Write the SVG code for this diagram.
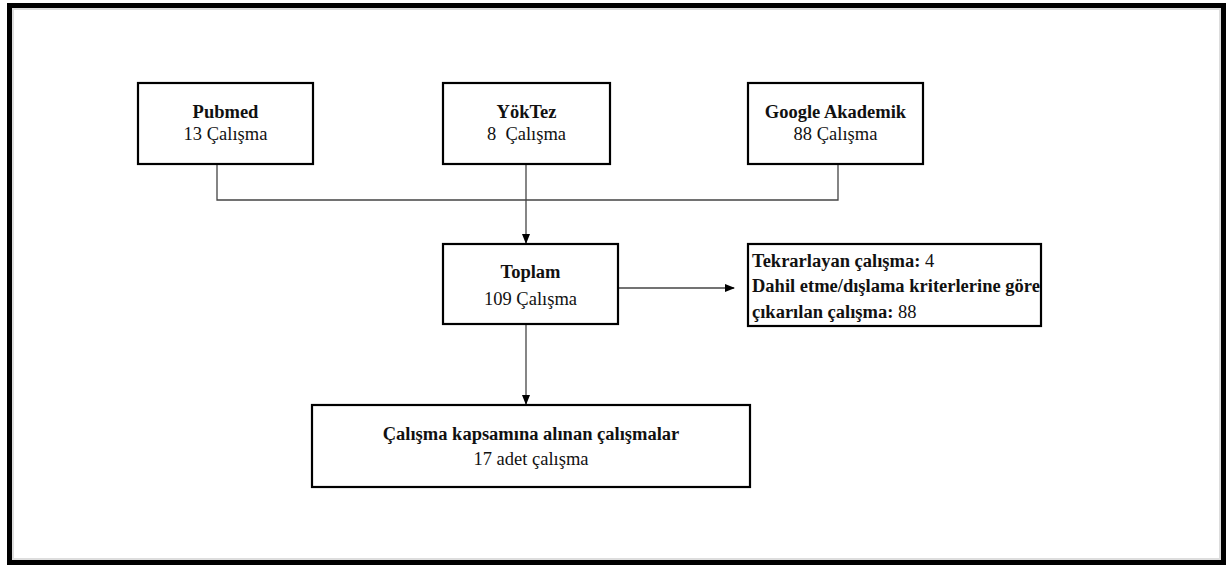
<svg xmlns="http://www.w3.org/2000/svg" width="1228" height="567" viewBox="0 0 1228 567">
<defs>
<marker id="arr" markerWidth="10" markerHeight="10" refX="9" refY="5" orient="auto" markerUnits="userSpaceOnUse">
<path d="M0,1 L10,5 L0,9 Z" fill="#000"/>
</marker>
<style>
.box{fill:#fff;stroke:#000;stroke-width:2.2}
.t{font-family:"Liberation Serif","Times New Roman",serif;font-size:18.5px;fill:#111}
.b{font-weight:bold}
.c{text-anchor:middle}
.ln{fill:none;stroke:#444;stroke-width:1.3}
</style>
</defs>
<rect x="0" y="0" width="1228" height="567" fill="#fff"/>
<rect x="9.5" y="5.5" width="1214" height="557" fill="#fff" stroke="#000" stroke-width="5"/>
<rect x="13" y="9" width="1207" height="550" fill="none" stroke="#ddd" stroke-width="2"/>

<g id="connectors">
<polyline class="ln" points="217,164 217,200 838,200 838,164"/>
<line class="ln" x1="526" y1="164" x2="526" y2="243" marker-end="url(#arr)"/>
<line class="ln" x1="618" y1="288" x2="734" y2="288" marker-end="url(#arr)"/>
<line class="ln" x1="526" y1="324" x2="526" y2="404" marker-end="url(#arr)"/>
</g>

<g id="pubmed">
<rect class="box" x="138" y="83" width="175" height="81"/>
<text class="t b c" x="225.5" y="118">Pubmed</text>
<text class="t c" x="225.5" y="140">13 Çalışma</text>
</g>

<g id="yoktez">
<rect class="box" x="443" y="83" width="167" height="81"/>
<text class="t b c" x="526.5" y="118">YökTez</text>
<text class="t c" x="526.5" y="140">8&#160; Çalışma</text>
</g>

<g id="google">
<rect class="box" x="748" y="83" width="175" height="81"/>
<text class="t b c" x="835.5" y="118">Google Akademik</text>
<text class="t c" x="835.5" y="140">88 Çalışma</text>
</g>

<g id="toplam">
<rect class="box" x="443" y="244" width="175" height="80"/>
<text class="t b c" x="530.5" y="278">Toplam</text>
<text class="t c" x="530.5" y="305">109 Çalışma</text>
</g>

<g id="excluded">
<rect class="box" x="748" y="244" width="293" height="82"/>
<text class="t" x="752" y="267"><tspan class="b">Tekrarlayan çalışma:</tspan> 4</text>
<text class="t b" x="752" y="292">Dahil etme/dışlama kriterlerine göre</text>
<text class="t" x="752" y="318"><tspan class="b">çıkarılan çalışma:</tspan> 88</text>
</g>

<g id="included">
<rect class="box" x="312" y="405" width="438" height="82"/>
<text class="t b c" x="531" y="440">Çalışma kapsamına alınan çalışmalar</text>
<text class="t c" x="531" y="465">17 adet çalışma</text>
</g>
</svg>
